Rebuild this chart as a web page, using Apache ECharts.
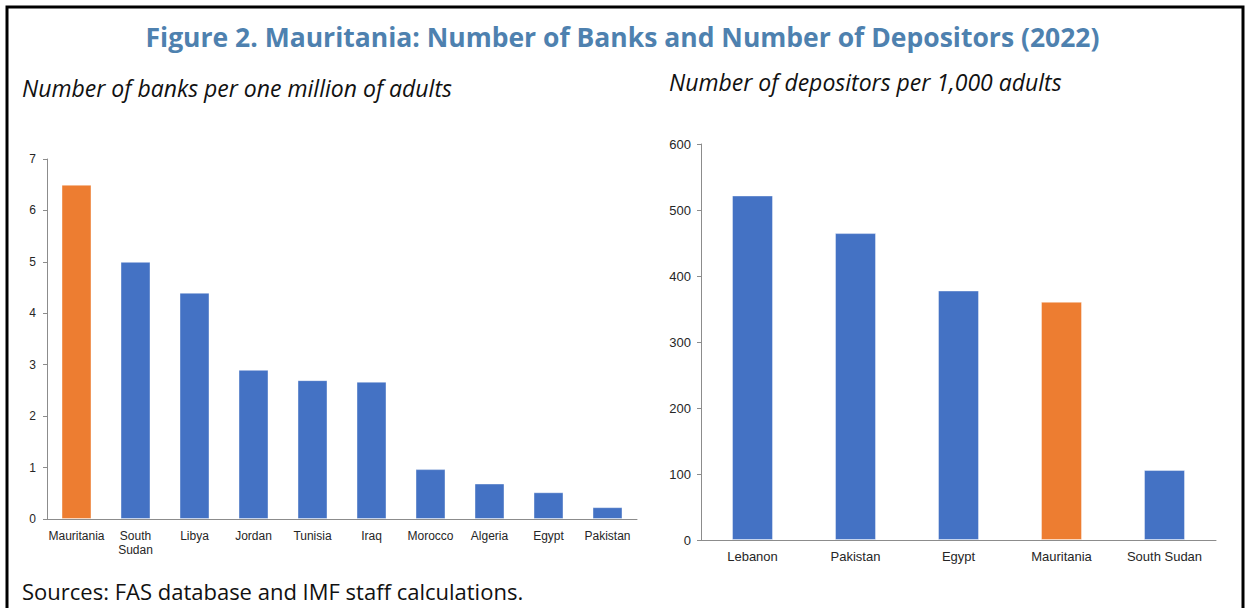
<!DOCTYPE html>
<html>
<head>
<meta charset="utf-8">
<script src="https://cdn.jsdelivr.net/npm/echarts@6/dist/echarts.min.js"></script>
<style>
html,body{margin:0;padding:0;background:#fff;}
#chart{width:1245px;height:608px;}
</style>
</head>
<body>
<div id="chart"></div>
<script>
// ---- Data ----
const banksCategories = ['Mauritania', 'South\nSudan', 'Libya', 'Jordan', 'Tunisia', 'Iraq', 'Morocco', 'Algeria', 'Egypt', 'Pakistan'];
const banksValues = [6.5, 5.0, 4.4, 2.9, 2.7, 2.67, 0.97, 0.69, 0.52, 0.23];
const banksTicks = [0, 1, 2, 3, 4, 5, 6, 7];

const depCategories = ['Lebanon', 'Pakistan', 'Egypt', 'Mauritania', 'South Sudan'];
const depValues = [522, 465, 378, 361, 106];
const depTicks = [0, 100, 200, 300, 400, 500, 600];

const highlight = 'Mauritania';
const BLUE = '#4472C4', ORANGE = '#ED7D31';

const chart = echarts.init(document.getElementById('chart'), null, {renderer: 'svg'});

function colored(cats, vals) {
  return vals.map((v, i) => ({
    value: v,
    itemStyle: {color: cats[i] === highlight ? ORANGE : BLUE}
  }));
}

const axisLabelBase = {fontFamily: '"Liberation Sans", Arial, sans-serif', color: '#262626'};
const FONT = '"Open Sans", "Noto Sans", sans-serif';

chart.setOption({
  animation: false,
  graphic: [
    {type: 'rect', shape: {x: 7, y: 7, width: 1236, height: 640}, style: {fill: 'none', stroke: '#000', lineWidth: 3}},
  ],
  title: [
    {text: 'Figure 2. Mauritania: Number of Banks and Number of Depositors (2022)', left: 'center', top: 18,
     textStyle: {fontFamily: FONT, fontWeight: 'bold', fontSize: 26.5, color: '#4E81AF'}},
    {text: 'Number of banks per one million of adults', left: 17, top: 71,
     textStyle: {fontFamily: FONT, fontStyle: 'italic', fontWeight: 'normal', fontSize: 23, color: '#111'}},
    {text: 'Number of depositors per 1,000 adults', left: 664, top: 65,
     textStyle: {fontFamily: FONT, fontStyle: 'italic', fontWeight: 'normal', fontSize: 23, color: '#111'}},
    {text: 'Sources: FAS database and IMF staff calculations.', left: 22, top: 578, padding: 0,
     textStyle: {fontFamily: FONT, fontWeight: 'normal', fontSize: 22, lineHeight: 26, color: '#111'}}
  ],
  grid: [
    {left: 47, top: 159, width: 590, height: 360},
    {left: 701, top: 144, width: 515, height: 396}
  ],
  xAxis: [
    {type: 'category', gridIndex: 0, data: banksCategories,
     axisLine: {lineStyle: {color: '#8c8c8c', width: 1}}, axisTick: {show: false},
     axisLabel: Object.assign({fontSize: 12, margin: 10, lineHeight: 14, interval: 0}, axisLabelBase)},
    {type: 'category', gridIndex: 1, data: depCategories,
     axisLine: {lineStyle: {color: '#8c8c8c', width: 1}}, axisTick: {show: false},
     axisLabel: Object.assign({fontSize: 13, margin: 10, interval: 0}, axisLabelBase)}
  ],
  yAxis: [
    {type: 'value', gridIndex: 0, min: banksTicks[0], max: banksTicks[banksTicks.length - 1], interval: 1,
     axisLine: {show: true, lineStyle: {color: '#8c8c8c'}},
     axisTick: {show: true, length: 4, lineStyle: {color: '#8c8c8c'}},
     splitLine: {show: false},
     axisLabel: Object.assign({fontSize: 12, margin: 11}, axisLabelBase)},
    {type: 'value', gridIndex: 1, min: depTicks[0], max: depTicks[depTicks.length - 1], interval: 100,
     axisLine: {show: true, lineStyle: {color: '#8c8c8c'}},
     axisTick: {show: true, length: 4, lineStyle: {color: '#8c8c8c'}},
     splitLine: {show: false},
     axisLabel: Object.assign({fontSize: 13, margin: 10}, axisLabelBase)}
  ],
  series: [
    {type: 'bar', xAxisIndex: 0, yAxisIndex: 0, barWidth: 30, data: colored(banksCategories, banksValues),
     itemStyle: {borderColor: 'rgba(255,255,255,0.4)', borderWidth: 1}},
    {type: 'bar', xAxisIndex: 1, yAxisIndex: 1, barWidth: 41, data: colored(depCategories, depValues),
     itemStyle: {borderColor: 'rgba(255,255,255,0.4)', borderWidth: 1}}
  ]
});
</script>
</body>
</html>
